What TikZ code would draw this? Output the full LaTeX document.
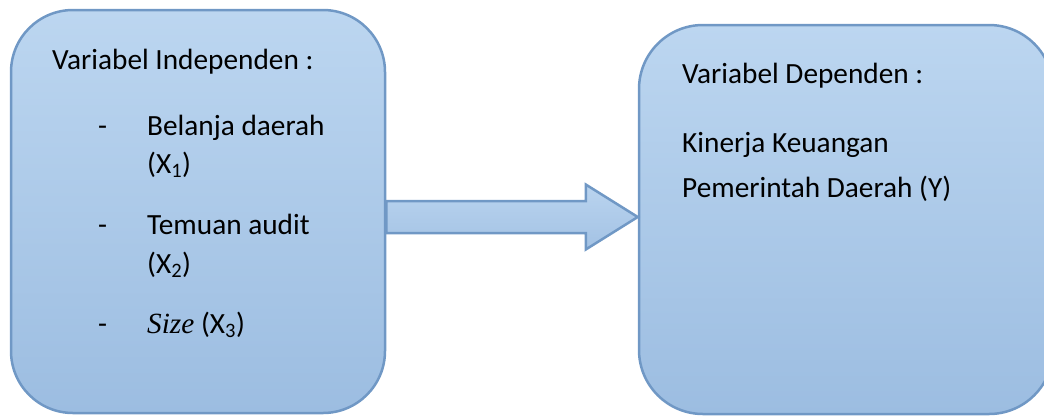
\documentclass[tikz,border=0pt]{standalone}
\usepackage{fontspec}
\setmainfont{Carlito}
\newfontfamily\sizefont{Liberation Serif}
\usetikzlibrary{calc}
\definecolor{boxtop}{HTML}{BCD6F0}
\definecolor{boxbot}{HTML}{9CBDE1}
\definecolor{arrtop}{HTML}{BAD4EF}
\definecolor{arrbot}{HTML}{A3C2E4}
\definecolor{edge}{HTML}{7098C5}
\tikzset{
  varbox/.style={draw=edge, line width=2.5pt, rounded corners=62pt, top color=boxtop, bottom color=boxbot, inner sep=0pt},
  blockarrow/.style={draw=edge, line width=2.5pt, line join=miter, top color=arrtop, bottom color=arrbot},
  txt/.style={anchor=base west, inner sep=0pt, font=\fontsize{29.3}{34}\selectfont}
}
\begin{document}
\begin{tikzpicture}[x=1pt,y=-1pt]
\useasboundingbox (0,0) rectangle (1044,416);
\clip (0,0) rectangle (1044,416);
\node[varbox, minimum width=374pt, minimum height=403pt] (L) at (198,211.5) {};
\node[varbox, minimum width=414pt, minimum height=389pt, rounded corners=64pt] (R) at (846,219.5) {};
\path (L.east) ++(0,5.5) coordinate (s);
\path (R.west) ++(0,-2.5) coordinate (t);
\draw[blockarrow] ($(s)+(0,-16)$) -- ($(t)+(-52,-16)$) -- ($(t)+(-52,-32.5)$) -- (t)
  -- ($(t)+(-52,32.5)$) -- ($(t)+(-52,16)$) -- ($(s)+(0,16)$) -- cycle;
% left box text
\node[txt] (li) at (52,69) {Variabel Independen :};
\node[txt] (d1) at (98,135) {-};
\node[txt] (x1a) at (147,135) {Belanja daerah};
\node[txt] (x1b) at (147,173) {(X\textsubscript{1})};
\node[txt] (d2) at (98,234) {-};
\node[txt] (x2a) at (147,234) {Temuan audit};
\node[txt] (x2b) at (147,273) {(X\textsubscript{2})};
\node[txt] (d3) at (98,333) {-};
\node[txt] (x3) at (147,333) {{\sizefont\itshape Size} (X\textsubscript{3})};
% right box text
\node[txt] (rd) at (682,83) {Variabel Dependen :};
\node[txt] (y1) at (682,152) {Kinerja Keuangan};
\node[txt] (y2) at (682,197) {Pemerintah Daerah (Y)};
\end{tikzpicture}
\end{document}
